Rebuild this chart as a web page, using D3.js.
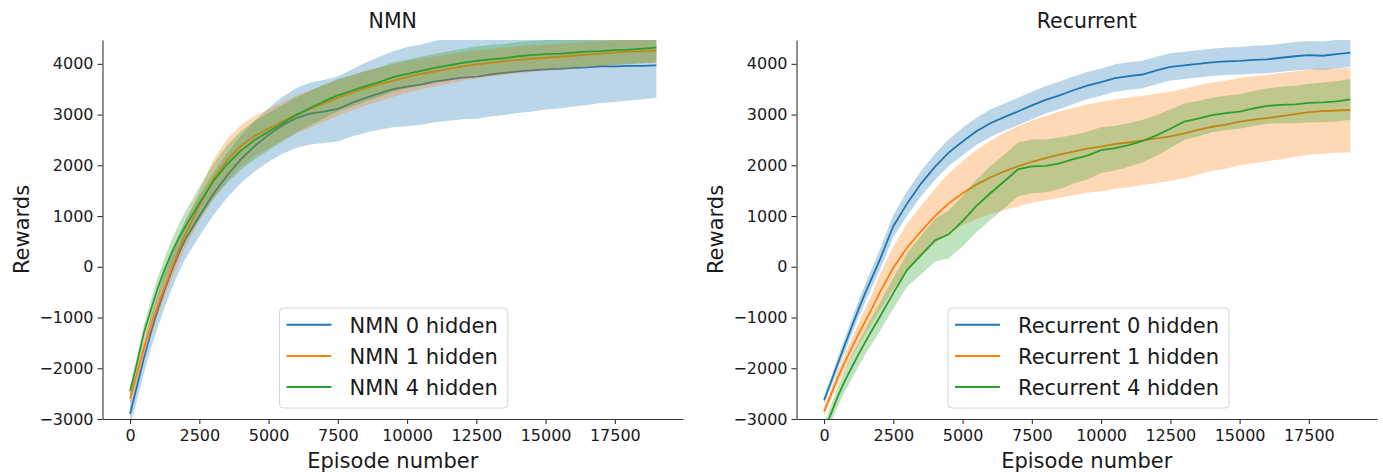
<!DOCTYPE html>
<html>
<head>
<meta charset="utf-8">
<script src="https://cdn.jsdelivr.net/npm/d3@7"></script>
<style>
body { margin: 0; background: #fff; }
text { font-family: "DejaVu Sans", sans-serif; fill: #1a1a1a; }
</style>
</head>
<body>
<svg width="1383" height="472"></svg>
<script>
// episodes shared by every series
var episodes = [0, 250, 500, 750, 1000, 1250, 1500, 1750, 2000,
    2500, 3000, 3500, 4000, 4500, 5000, 5500, 6000, 6500, 7000,
    7500, 8000, 8500, 9000, 9500, 10000, 10500, 11000, 11500, 12000,
    12500, 13000, 13500, 14000, 14500, 15000, 15500, 16000, 16500, 17000,
    17500, 18000, 18500, 19000];

// NMN panel: mean reward and spread
var nmn0 = [-2900, -2350, -1800, -1300, -850, -450, -80, 250, 540,
    1000, 1430, 1800, 2120, 2380, 2600, 2790, 2930, 3020, 3060,
    3110, 3230, 3330, 3420, 3500, 3550, 3590, 3650, 3690, 3730,
    3750, 3790, 3820, 3850, 3870, 3890, 3900, 3920, 3930, 3950,
    3950, 3960, 3960, 3970];
var nmn0Sd = [250, 280, 300, 320, 340, 350, 360, 370, 380,
    400, 420, 440, 470, 500, 530, 560, 590, 610, 620,
    640, 660, 690, 720, 750, 780, 790, 800, 810, 820,
    830, 830, 830, 820, 810, 790, 780, 760, 740, 720,
    700, 680, 660, 640];
var nmn1 = [-2600, -2100, -1600, -1150, -750, -380, -20, 320, 640,
    1200, 1720, 2100, 2380, 2580, 2720, 2870, 3000, 3110, 3220,
    3330, 3430, 3520, 3600, 3670, 3740, 3800, 3850, 3900, 3950,
    3990, 4020, 4050, 4080, 4100, 4120, 4140, 4160, 4180, 4200,
    4220, 4240, 4250, 4260];
var nmn1Sd = [120, 140, 160, 180, 200, 215, 230, 245, 260,
    300, 380, 420, 410, 395, 385, 375, 370, 365, 360,
    355, 345, 340, 330, 320, 310, 300, 295, 290, 285,
    280, 275, 270, 265, 260, 255, 255, 250, 250, 245,
    245, 240, 240, 240];
var nmn4 = [-2450, -1900, -1300, -850, -420, -50, 280, 560, 800,
    1250, 1680, 2020, 2290, 2500, 2660, 2830, 2990, 3130, 3260,
    3380, 3470, 3560, 3640, 3740, 3800, 3860, 3920, 3970, 4020,
    4060, 4090, 4110, 4150, 4170, 4190, 4200, 4220, 4240, 4250,
    4270, 4280, 4300, 4320];
var nmn4Sd = [100, 130, 160, 190, 210, 230, 250, 270, 290,
    320, 350, 370, 380, 380, 370, 360, 350, 340, 330,
    320, 310, 300, 290, 285, 280, 280, 280, 280, 280,
    280, 280, 280, 280, 280, 280, 285, 285, 290, 290,
    290, 290, 290, 290];

// Recurrent panel
var rec0 = [-2630, -2270, -1900, -1540, -1180, -830, -500, -190, 120,
    800, 1250, 1640, 1970, 2250, 2470, 2670, 2830, 2950, 3060,
    3180, 3290, 3380, 3480, 3570, 3640, 3720, 3760, 3790, 3870,
    3940, 3970, 4000, 4030, 4050, 4060, 4080, 4090, 4120, 4150,
    4170, 4160, 4190, 4220];
var rec0Sd = [80, 100, 120, 140, 150, 165, 180, 190, 200,
    220, 240, 250, 260, 265, 270, 270, 270, 270, 270,
    270, 270, 270, 270, 270, 270, 270, 270, 270, 270,
    270, 270, 270, 270, 270, 270, 275, 275, 275, 280,
    280, 280, 280, 280];
var rec1 = [-2850, -2520, -2180, -1880, -1600, -1320, -1060, -800, -520,
    -20, 380, 700, 1000, 1250, 1450, 1620, 1760, 1880, 1980,
    2070, 2140, 2210, 2270, 2330, 2370, 2420, 2450, 2490, 2530,
    2570, 2630, 2700, 2760, 2800, 2860, 2900, 2930, 2970, 3010,
    3050, 3070, 3080, 3090];
var rec1Sd = [80, 100, 130, 160, 190, 220, 260, 300, 350,
    420, 470, 500, 540, 590, 630, 680, 720, 760, 790,
    810, 830, 850, 860, 870, 880, 880, 880, 880, 880,
    880, 880, 880, 870, 870, 860, 860, 850, 850, 840,
    840, 840, 830, 830];
var rec4 = [-3250, -2900, -2550, -2250, -1980, -1720, -1470, -1230, -1000,
    -520, -60, 230, 520, 640, 900, 1200, 1450, 1680, 1920,
    1980, 1990, 2040, 2120, 2190, 2300, 2340, 2400, 2480, 2590,
    2720, 2860, 2920, 2990, 3030, 3060, 3120, 3170, 3190, 3200,
    3230, 3240, 3260, 3300];
var rec4Sd = [150, 170, 190, 210, 230, 240, 250, 265, 280,
    300, 330, 380, 420, 470, 500, 520, 530, 530, 530,
    530, 520, 510, 480, 470, 450, 440, 430, 420, 400,
    380, 360, 350, 340, 340, 340, 345, 350, 360, 370,
    380, 390, 395, 400];

var nmnLabels = ['NMN 0 hidden', 'NMN 1 hidden', 'NMN 4 hidden'];
var recLabels = ['Recurrent 0 hidden', 'Recurrent 1 hidden', 'Recurrent 4 hidden'];
var xTicks = [0, 2500, 5000, 7500, 10000, 12500, 15000, 17500];
var yTicks = [-3000, -2000, -1000, 0, 1000, 2000, 3000, 4000];

var colors = ['#1f77b4', '#ff7f0e', '#2ca02c'];
var svg = d3.select('svg');
var plotTop = 40, plotBottom = 419;

var panels = [
    {id: 'nmn', title: 'NMN', left: 102.5, right: 683, legendX: 279.5,
     labels: nmnLabels, means: [nmn0, nmn1, nmn4], sds: [nmn0Sd, nmn1Sd, nmn4Sd]},
    {id: 'rec', title: 'Recurrent', left: 796.5, right: 1377, legendX: 948,
     labels: recLabels, means: [rec0, rec1, rec4], sds: [rec0Sd, rec1Sd, rec4Sd]}
];

panels.forEach(function(p) {
    var x = d3.scaleLinear().domain([-995, 19960]).range([p.left, p.right]);
    var y = d3.scaleLinear().domain([-3000, 4470]).range([plotBottom, plotTop]);
    var g = svg.append('g');

    g.append('clipPath').attr('id', 'clip-' + p.id)
      .append('rect')
      .attr('x', p.left).attr('y', plotTop)
      .attr('width', p.right - p.left).attr('height', plotBottom - plotTop);

    var plot = g.append('g').attr('clip-path', 'url(#clip-' + p.id + ')');

    p.means.forEach(function(mean, s) {
        var sd = p.sds[s];
        var rows = episodes.map(function(e, i) { return {e: e, m: mean[i], sd: sd[i]}; });

        var line = d3.line().x(function(d) { return x(d.e); }).y(function(d) { return y(d.m); });
        var area = d3.area()
            .x(function(d) { return x(d.e); })
            .y0(function(d) { return y(d.m - d.sd); })
            .y1(function(d) { return y(d.m + d.sd); });

        plot.append('path').datum(rows)
            .attr('d', line)
            .attr('fill', 'none')
            .attr('stroke', colors[s])
            .attr('stroke-width', 1.8);
        plot.append('path').datum(rows)
            .attr('d', area)
            .attr('fill', colors[s])
            .attr('fill-opacity', 0.3);
    });

    var fmt = d3.format('d');
    var xAxis = g.append('g')
        .attr('transform', 'translate(0,' + plotBottom + ')')
        .call(d3.axisBottom(x).tickValues(xTicks).tickFormat(fmt)
              .tickSize(5).tickPadding(6).tickSizeOuter(0));
    var yAxis = g.append('g')
        .attr('transform', 'translate(' + p.left + ',0)')
        .call(d3.axisLeft(y).tickValues(yTicks).tickFormat(fmt)
              .tickSize(5).tickPadding(4).tickSizeOuter(0));

    [xAxis, yAxis].forEach(function(a) {
        a.attr('font-family', null).attr('font-size', null);
        a.select('.domain').attr('stroke', '#333').attr('stroke-width', 1.1);
        a.selectAll('.tick line').attr('stroke', '#333').attr('stroke-width', 1.1);
        a.selectAll('.tick text').style('font-size', '16px').attr('fill', '#222');
    });

    var cx = (p.left + p.right) / 2;
    g.append('text').attr('x', cx).attr('y', 28)
        .attr('text-anchor', 'middle').style('font-size', '20.5px')
        .text(p.title);
    g.append('text').attr('x', cx).attr('y', 468)
        .attr('text-anchor', 'middle').style('font-size', '21px')
        .text('Episode number');
    g.append('text')
        .attr('transform', 'translate(' + (p.left - 74) + ',' + ((plotTop + plotBottom) / 2) + ') rotate(-90)')
        .attr('text-anchor', 'middle').style('font-size', '21px')
        .text('Rewards');

    // legend
    var lg = g.append('g').attr('transform', 'translate(' + p.legendX + ',308)');
    var box = lg.append('rect')
        .attr('height', 100).attr('rx', 4)
        .attr('fill', '#fff').attr('fill-opacity', 0.8)
        .attr('stroke', '#d4d4d4').attr('stroke-width', 1);
    var maxW = 0;
    p.labels.forEach(function(lab, s) {
        var ly = 16.7 + s * 31.2;
        lg.append('line')
            .attr('x1', 7).attr('x2', 52).attr('y1', ly).attr('y2', ly)
            .attr('stroke', colors[s]).attr('stroke-width', 2);
        var t = lg.append('text').attr('x', 70).attr('y', ly + 8)
            .style('font-size', '21px').text(lab);
        maxW = Math.max(maxW, t.node().getComputedTextLength());
    });
    box.attr('width', 70 + maxW + 10);
});
</script>
</body>
</html>
